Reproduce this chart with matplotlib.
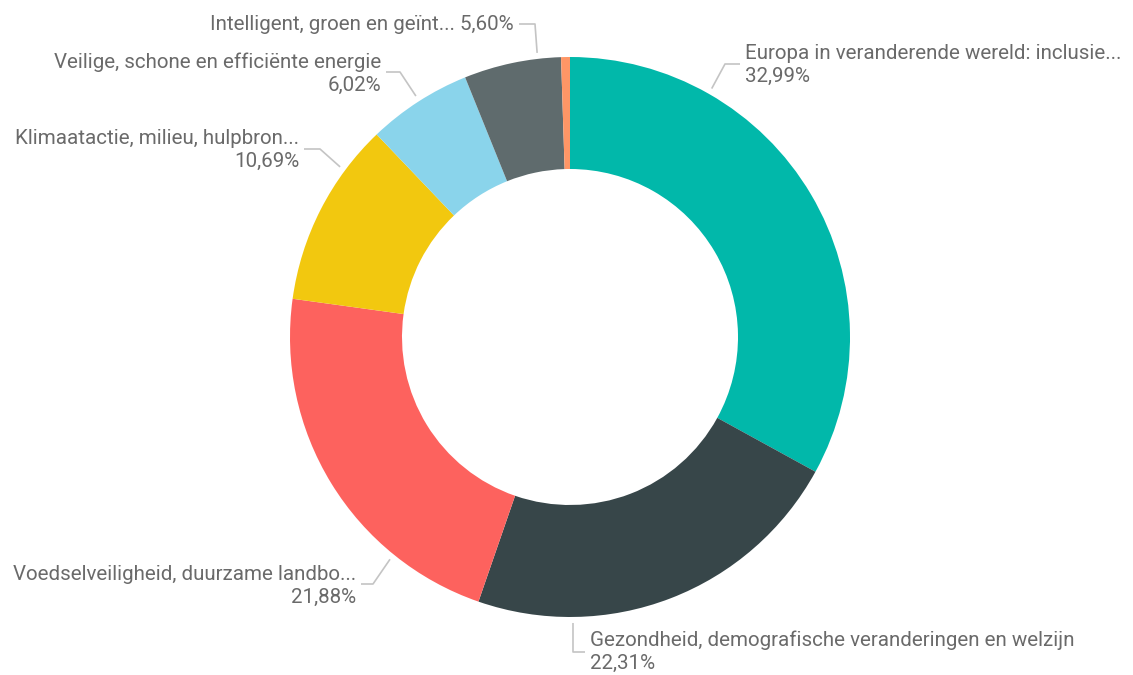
import matplotlib
matplotlib.use("Agg")
import matplotlib.pyplot as plt
import numpy as np

# data
names = [
    "Europa in veranderende wereld: inclusie...",
    "Gezondheid, demografische veranderingen en welzijn",
    "Voedselveiligheid, duurzame landbo...",
    "Klimaatactie, milieu, hulpbron...",
    "Veilige, schone en efficiënte energie",
    "Intelligent, groen en geïnt...",
    "Overig",
]
shares = [32.99, 22.31, 21.88, 10.69, 6.02, 5.60, 0.51]
pct_labels = ["32,99%", "22,31%", "21,88%", "10,69%", "6,02%", "5,60%", None]
colors = ["#01B8AA", "#374649", "#FD625E", "#F2C80F", "#8AD4EB", "#5F6B6D", "#FE9666"]

W, H = 1133, 675
CX, CY, R = 570, 337, 280

fig = plt.figure(figsize=(W / 100, H / 100), dpi=100)
ax = fig.add_axes([0, 0, 1, 1])

ax.pie(shares, colors=colors, startangle=90, counterclock=False,
       radius=R, center=(CX, H - CY),
       wedgeprops=dict(width=R * 0.4, edgecolor="none"))
ax.set_xlim(0, W)
ax.set_ylim(0, H)
ax.set_aspect("equal")
ax.axis("off")

txt_color = "#6a6a6a"
line_color = "#c4c4c4"
fs = 14.8

# label layout (pixel coords, y down): anchor angle on ring, elbow, text x, block centre y, alignment
layout = [
    dict(ang=60.3, elbow=(725, 64), tx=745, ty=65, ha="left"),
    dict(ang=-89.4, elbow=(573, 652), tx=590, ty=652, ha="left"),
    dict(ang=-129.0, elbow=(373, 584), tx=356, ty=586, ha="right"),
    dict(ang=143.5, elbow=(320, 149), tx=299, ty=150, ha="right"),
    dict(ang=122.6, elbow=(400, 72), tx=381, ty=74, ha="right"),
    dict(ang=96.6, elbow=(535, 24), tx=514, ty=24, ha="right"),
]

for i, lay in enumerate(layout):
    a = np.deg2rad(lay["ang"])
    x0 = CX + (R + 6) * np.cos(a)
    y0 = CY - (R + 6) * np.sin(a)
    ex, ey = lay["elbow"]
    end_x = lay["tx"] + (-5 if lay["ha"] == "left" else 5)
    ax.plot([x0, ex, end_x], [H - y0, H - ey, H - ey], color=line_color, lw=1.2,
            solid_capstyle="butt")
    if i == 5:
        ax.text(lay["tx"], H - lay["ty"], names[i] + " " + pct_labels[i],
                ha=lay["ha"], va="center", fontsize=fs, color=txt_color,
                family="Roboto")
    else:
        ax.text(lay["tx"], H - (lay["ty"] - 11.5), names[i], ha=lay["ha"],
                va="center", fontsize=fs, color=txt_color, family="Roboto")
        ax.text(lay["tx"], H - (lay["ty"] + 11.5), pct_labels[i], ha=lay["ha"],
                va="center", fontsize=fs, color=txt_color, family="Roboto")

fig.savefig("out.png", dpi=100, facecolor="white")
